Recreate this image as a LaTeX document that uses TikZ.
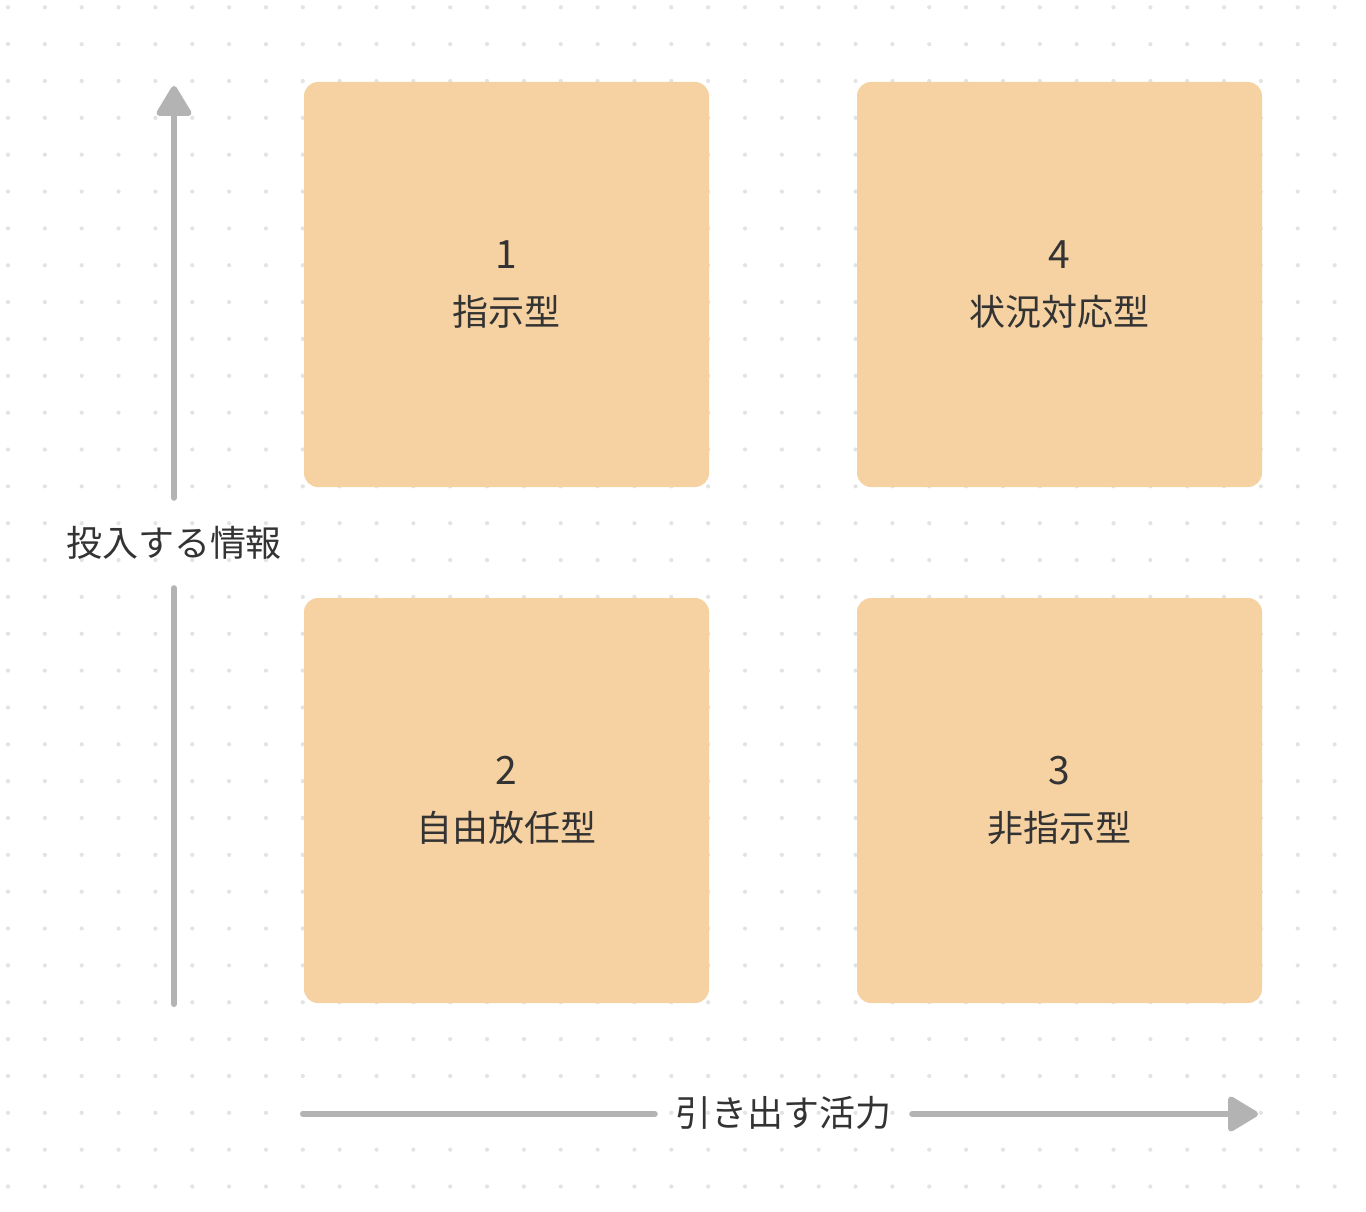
\documentclass[tikz,border=0pt]{standalone}
\usepackage{fontspec}
\setmainfont{Noto Sans CJK JP}
\usetikzlibrary{arrows.meta}
\definecolor{boxfill}{HTML}{F6D2A2}
\definecolor{axisgray}{HTML}{B3B3B3}
\definecolor{dotgray}{HTML}{E3E3E3}
\definecolor{txt}{HTML}{333333}
\tikzset{
  quad/.style={fill=boxfill, rounded corners=14pt, minimum width=405pt, minimum height=405pt, inner sep=0pt, align=center, text=txt, font=\fontsize{36}{57}\selectfont},
  axis/.style={draw=axisgray, line width=6pt, line cap=round},
  axtip/.style={-{Triangle[length=33pt,width=38pt,round]}},
  axlabel/.style={inner sep=0pt, text=txt, font=\fontsize{36}{40}\selectfont},
}
\newcommand{\qnum}[1]{{\fontsize{39}{40}\selectfont #1}}
\begin{document}
\begin{tikzpicture}[x=1pt,y=-1pt]
\useasboundingbox[fill=white] (0,0) rectangle (1366,1212);
\foreach \i in {0,...,36} {
  \foreach \j in {0,...,32} {
    \fill[dotgray] (8+36.85*\i, 7.3+36.85*\j) circle (2.1pt);
  }
}
\node[quad] (q1) at (506.5,284.5) {\qnum{1}\\指示型};
\node[quad] (q4) at (1059.5,284.5) {\qnum{4}\\状況対応型};
\node[quad] (q2) at (506.5,800.5) {\qnum{2}\\自由放任型};
\node[quad] (q3) at (1059.5,800.5) {\qnum{3}\\非指示型};

\node[axlabel, minimum height=90pt] (vl) at (174,543) {投入する情報};
\coordinate (vtop) at (174,86);
\coordinate (vbot) at (174,1004);
\draw[axis, axtip] (vl.north) -- (vtop);
\draw[axis] (vl.south) -- (vbot);

\node[axlabel, minimum width=257pt] (hl) at (783.5,1113) {引き出す活力};
\coordinate (hleft) at (303,1114);
\coordinate (hright) at (1258,1114);
\draw[axis] (hleft) -- (hl.west |- hleft);
\draw[axis, axtip] (hl.east |- hright) -- (hright);
\end{tikzpicture}
\end{document}
